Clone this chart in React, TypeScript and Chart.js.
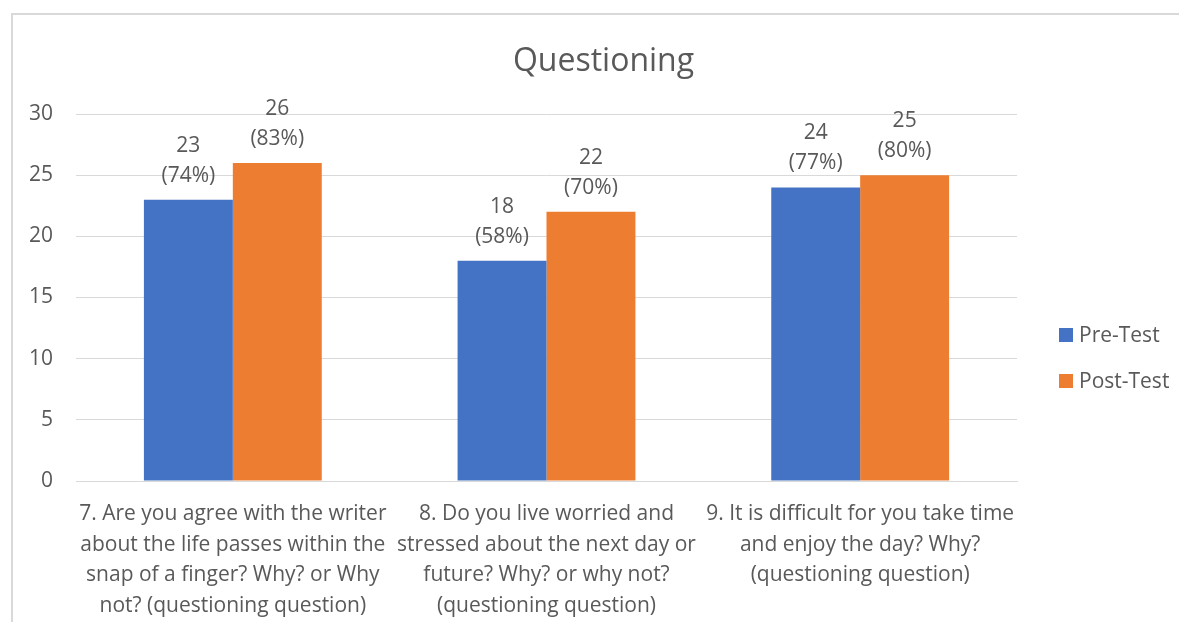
import React, { useEffect, useRef } from "react";
import { Chart, registerables } from "chart.js";

Chart.register(...registerables);

const categories: string[][] = [
  ["7. Are you agree with the writer", "about the life passes within the", "snap of a finger? Why? or Why", "not? (questioning question)"],
  ["8. Do you live worried and", "stressed about the next day or", "future? Why? or why not?", "(questioning question)"],
  ["9. It is difficult for you take time", "and enjoy the day? Why?", "(questioning question)"],
];
const preTest = [23, 18, 24];
const postTest = [26, 22, 25];
const prePercent = [74, 58, 77];
const postPercent = [83, 70, 80];
const yTicks = [0, 5, 10, 15, 20, 25, 30];

const FONT = "'Open Sans', Lato, sans-serif";
const TEXT = "#595959";
const GRID = "#d9d9d9";
const BLUE = "#4472C4";
const ORANGE = "#ED7D31";

// Two-line value labels above each bar: count and percentage
const barLabels = {
  id: "barLabels",
  afterDatasetsDraw(chart: any) {
    const ctx = chart.ctx;
    const pcts = [prePercent, postPercent];
    ctx.save();
    ctx.font = `21px ${FONT}`;
    ctx.fillStyle = TEXT;
    ctx.textAlign = "center";
    ctx.textBaseline = "middle";
    chart.data.datasets.forEach((ds: any, di: number) => {
      const meta = chart.getDatasetMeta(di);
      meta.data.forEach((el: any, i: number) => {
        ctx.fillText(String(ds.data[i]), el.x, el.y - 54);
        ctx.fillText(`(${pcts[di][i]}%)`, el.x, el.y - 24);
      });
    });
    ctx.restore();
  },
};

// Legend drawn at the right, beside the plot area
const sideLegend = {
  id: "sideLegend",
  afterDraw(chart: any) {
    const ctx = chart.ctx;
    const area = chart.chartArea;
    ctx.save();
    ctx.font = `21px ${FONT}`;
    ctx.textBaseline = "middle";
    ctx.textAlign = "left";
    chart.data.datasets.forEach((ds: any, i: number) => {
      const cy = area.top + 221 + i * 46;
      const x = area.right + 42;
      ctx.fillStyle = ds.backgroundColor;
      ctx.fillRect(x, cy - 7, 14, 14);
      ctx.fillStyle = TEXT;
      ctx.fillText(ds.label, x + 20, cy + 1);
    });
    ctx.restore();
  },
};

export default function App() {
  const ref = useRef<HTMLCanvasElement>(null);

  useEffect(() => {
    if (!ref.current) return;
    const chart = new Chart(ref.current, {
      type: "bar",
      data: {
        labels: categories,
        datasets: [
          { label: "Pre-Test", data: preTest, backgroundColor: BLUE },
          { label: "Post-Test", data: postTest, backgroundColor: ORANGE },
        ],
      },
      options: {
        animation: false,
        responsive: false,
        devicePixelRatio: 1,
        layout: { padding: { left: 28, right: 0, top: 0, bottom: 0 } },
        datasets: { bar: { categoryPercentage: 0.567, barPercentage: 1 } },
        plugins: {
          legend: { display: false },
          tooltip: { enabled: false },
          title: {
            display: true,
            text: "Questioning",
            color: TEXT,
            font: { family: FONT, size: 32, weight: "normal", lineHeight: 1.2 },
            padding: { top: 43, bottom: 32.6 },
          },
        },
        scales: {
          x: {
            grid: { display: false, drawTicks: false },
            border: { display: true, color: GRID, width: 1 },
            ticks: {
              color: TEXT,
              font: { family: FONT, size: 21, lineHeight: 1.45 },
              padding: 18,
              maxRotation: 0,
              autoSkip: false,
            },
            afterFit(scale: any) {
              scale.height = 141;
            },
          },
          y: {
            min: 0,
            max: 30,
            afterBuildTicks(scale: any) {
              scale.ticks = yTicks.map((v) => ({ value: v }));
            },
            grid: { color: GRID, lineWidth: 1, drawTicks: false },
            border: { display: false },
            ticks: {
              color: TEXT,
              font: { family: FONT, size: 21 },
              padding: 23,
            },
            afterFit(scale: any) {
              scale.width = 48;
            },
          },
          // empty right-hand axis that reserves room for the legend
          legendSpace: {
            type: "linear",
            position: "right",
            display: true,
            grid: { display: false, drawTicks: false },
            border: { display: false },
            ticks: { display: false },
            afterFit(scale: any) {
              scale.width = 162;
            },
          },
        },
      },
      plugins: [barLabels, sideLegend],
    });
    return () => chart.destroy();
  }, []);

  return (
    <div style={{ position: "fixed", left: 0, top: 0, width: 1179, height: 622, background: "#fff", overflow: "hidden" }}>
      <div
        style={{
          position: "absolute",
          left: 11,
          top: 13,
          width: 1200,
          height: 700,
          border: `2px solid ${GRID}`,
        }}
      />
      <canvas ref={ref} width={1179} height={622} style={{ position: "absolute", left: 0, top: 0, width: 1179, height: 622 }} />
    </div>
  );
}
